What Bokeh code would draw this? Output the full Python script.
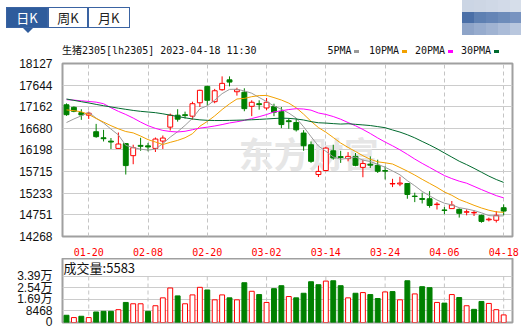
from bokeh.plotting import figure
from bokeh.layouts import column
from bokeh.models import ColumnDataSource, FixedTicker, Range1d, Div
from bokeh.core.properties import value
from bokeh.embed import file_html
from bokeh.resources import INLINE

# ---------------- data ----------------
dates = ["01-17", "01-18", "01-19", "01-20", "01-30", "01-31", "02-01", "02-02", "02-03", "02-06",
         "02-07", "02-08", "02-09", "02-10", "02-13", "02-14", "02-15", "02-16", "02-17", "02-20",
         "02-21", "02-22", "02-23", "02-24", "02-27", "02-28", "03-01", "03-02", "03-03", "03-06",
         "03-07", "03-08", "03-09", "03-10", "03-13", "03-14", "03-15", "03-16", "03-17", "03-20",
         "03-21", "03-22", "03-23", "03-24", "03-27", "03-28", "03-29", "03-30", "03-31", "04-03",
         "04-04", "04-06", "04-07", "04-10", "04-11", "04-12", "04-13", "04-14", "04-17", "04-18"]
tick_labels = ["01-20", "02-08", "02-20", "03-02", "03-14", "03-24", "04-06", "04-18"]

opens = [17206, 17150, 17030, 16974, 16605, 16470, 16395, 16233, 16340, 16071,
         16300, 16290, 16233, 16397, 16708, 16974, 16985, 16952, 17251, 17616,
         17275, 17542, 17763, 17497, 17486, 17172, 17230, 17135, 17165, 17053,
         16850, 16810, 16575, 16315, 15650, 15740, 16180, 16050, 16005, 16055,
         15810, 15880, 15855, 15740, 15440, 15440, 15450, 15170, 15115, 15110,
         14980, 14860, 14890, 14874, 14810, 14795, 14740, 14640, 14630, 14910]
highs = [17237, 17170, 17107, 17053, 16780, 16648, 16465, 16588, 16350, 16315,
         16470, 16356, 16477, 16521, 17010, 17107, 17053, 17275, 17542, 17630,
         17560, 17840, 17840, 17586, 17574, 17306, 17306, 17358, 17230, 17157,
         16908, 16908, 16640, 16388, 15850, 16270, 16315, 16180, 16150, 16130,
         15982, 16055, 15982, 15834, 15555, 15600, 15460, 15245, 15245, 15280,
         15035, 14925, 15060, 14895, 14874, 14850, 14755, 14690, 14835, 14985]
lows = [16960, 17040, 16870, 16890, 16470, 16388, 16220, 16233, 15650, 15880,
        16180, 16168, 16153, 16220, 16632, 16830, 16900, 16876, 17157, 17190,
        17240, 17520, 17617, 17410, 17062, 16952, 17097, 17085, 16952, 16685,
        16670, 16610, 16180, 15910, 15595, 15720, 15982, 15910, 15945, 15835,
        15590, 15798, 15685, 15540, 15370, 15390, 15110, 15035, 15005, 14910,
        14870, 14765, 14890, 14690, 14740, 14725, 14575, 14605, 14580, 14740]
closes = [16985, 17061, 16980, 17018, 16495, 16450, 16375, 16331, 15850, 16249,
          16280, 16265, 16442, 16464, 16974, 16885, 16965, 17230, 17529, 17306,
          17519, 17684, 17712, 17542, 17120, 17262, 17210, 17262, 17040, 16765,
          16830, 16648, 16293, 15945, 15720, 16240, 16020, 16030, 16055, 15855,
          15895, 15860, 15723, 15725, 15450, 15460, 15206, 15160, 15095, 14960,
          14990, 14850, 14970, 14785, 14820, 14805, 14605, 14655, 14740, 14835]

ma5 = [16810, 16890, 16960, 17040, 16908, 16801, 16664, 16534, 16300, 16251,
       16217, 16195, 16217, 16340, 16485, 16606, 16746, 16904, 17117, 17183,
       17310, 17454, 17550, 17553, 17515, 17464, 17369, 17279, 17179, 17108,
       17021, 16909, 16715, 16496, 16287, 16169, 16044, 15991, 16013, 16040,
       15971, 15939, 15878, 15812, 15731, 15644, 15513, 15400, 15274, 15176,
       15082, 15011, 14973, 14911, 14883, 14846, 14797, 14734, 14725, 14728]
ma10 = [17092, 17075, 17050, 16990, 16900, 16820, 16740, 16670, 16610, 16579,
        16509, 16429, 16376, 16320, 16368, 16412, 16471, 16560, 16728, 16834,
        16958, 17100, 17227, 17335, 17349, 17387, 17411, 17415, 17366, 17312,
        17243, 17139, 16997, 16838, 16698, 16595, 16476, 16353, 16255, 16164,
        16070, 15991, 15934, 15912, 15885, 15807, 15726, 15639, 15543, 15453,
        15363, 15262, 15187, 15093, 15030, 14964, 14904, 14854, 14818, 14806]
ma20 = [17320, 17310, 17295, 17280, 17265, 17230, 17140, 17060, 16990, 16910,
        16820, 16740, 16680, 16635, 16610, 16600, 16615, 16650, 16685, 16707,
        16733, 16765, 16801, 16827, 16859, 16899, 16941, 16988, 17047, 17073,
        17100, 17119, 17112, 17086, 17023, 16991, 16944, 16884, 16810, 16738,
        16656, 16565, 16466, 16375, 16291, 16201, 16101, 15996, 15899, 15809,
        15717, 15627, 15560, 15502, 15457, 15386, 15315, 15246, 15180, 15129]
ma30 = [17335, 17305, 17275, 17247, 17215, 17185, 17158, 17130, 17105, 17080,
        17060, 17045, 17030, 17005, 16975, 16945, 16915, 16890, 16870, 16860,
        16855, 16855, 16858, 16862, 16866, 16872, 16880, 16890, 16900, 16908,
        16903, 16889, 16867, 16831, 16805, 16798, 16786, 16776, 16783, 16770,
        16757, 16743, 16719, 16695, 16644, 16597, 16538, 16469, 16388, 16310,
        16225, 16131, 16039, 15947, 15871, 15789, 15702, 15615, 15539, 15474]

volumes = [5324, 3630, 4600, 3630, 7744, 8228, 8228, 9438, 14762, 13794,
           13794, 8228, 12342, 18150, 25410, 19602, 13794, 20328, 25894, 23958,
           16698, 20328, 18150, 16698, 29282, 22990, 20570, 14762, 24926, 27104,
           19118, 18150, 21538, 30008, 27830, 30492, 30734, 27104, 18150, 21538,
           22022, 20570, 17666, 22506, 22748, 16698, 30734, 21054, 26378, 25652,
           14762, 14278, 20570, 18392, 12342, 9680, 15488, 14036, 9438, 5583]
vol_up = [0, 1, 0, 1, 0, 0, 0, 1, 0, 1,
          1, 0, 1, 1, 1, 0, 1, 1, 1, 0,
          1, 1, 0, 1, 0, 1, 0, 1, 0, 0,
          1, 0, 0, 0, 0, 1, 0, 0, 1, 0,
          1, 0, 0, 1, 0, 1, 0, 1, 0, 0,
          1, 0, 1, 0, 1, 0, 0, 1, 1, 1]

price_ticks = [14268, 14751, 15233, 15715, 16198, 16680, 17162, 17644, 18127]
vol_ticks = [0, 8468, 16936, 25404, 33872]
vol_tick_labels = ["0", "8468", "1.69万", "2.54万", "3.39万"]

ma_names = ["5PMA", "10PMA", "20PMA", "30PMA"]
tabs = ["日K", "周K", "月K"]
title = "生猪2305[lh2305] 2023-04-18 11:30"

# ---------------- styles ----------------
RED = "#ff0000"
GREEN = "#008000"
MA_COLORS = ["#9a9a9a", "#f2a100", "#ff00ff", "#006a2e"]
GRID = "#cccccc"
BORDER = "#a0a0a0"
TAB_BLUE = "#2f5c9c"
CJK = value("Noto Sans CJK SC")
MONO_CSS = "'DejaVu Sans Mono','Noto Sans CJK SC',monospace"

idx = list(range(len(dates)))
tick_idx = [dates.index(t) for t in tick_labels]
x_rng = Range1d(-0.54, 60.19)

# ---------------- header (HTML) ----------------
parts = []
tab_left = [6, 48, 88]
tab_w = [42, 40, 41.5]
for i, (t, l, w) in enumerate(zip(tabs, tab_left, tab_w)):
    sel = i == 0
    parts.append(
        '<div style="position:absolute;left:%spx;top:7px;width:%spx;height:21px;box-sizing:border-box;'
        'border:1px solid #3a63a2;background:%s;color:%s;font:13px \'Noto Sans CJK SC\';'
        'line-height:19px;text-align:center;">%s</div>'
        % (l, w, TAB_BLUE if sel else "white", "white" if sel else "#222", t))
parts.append('<div style="position:absolute;left:23px;top:28px;width:0;height:0;'
             'border-left:5px solid transparent;border-right:5px solid transparent;'
             'border-top:5px solid %s;"></div>' % TAB_BLUE)
logo_colors = [["#cbd5e4", "#cdd6e4", "#cfd8e6", "#d2dae8", "#d6deea"],
               ["#4a6fa7", "#5e80b2", "#6585b6", "#6d8cba", "#7893c0"],
               ["#8ea4c8", "#97acce", "#a0b3d2", "#abbcd8", "#b9c7de"]]
for r, row in enumerate(logo_colors):
    for c, col in enumerate(row):
        parts.append('<div style="position:absolute;left:%spx;top:%spx;width:12px;height:12px;'
                     'background:%s;"></div>' % (461.5 + 12 * c, r * 11.5, col))
parts.append('<div style="position:absolute;left:%spx;top:%spx;font:10px %s;color:#111;'
             'line-height:12px;white-space:nowrap;">%s</div>' % (62, 45, MONO_CSS, title))
leg_x = [327.5, 369, 415, 461]
for x, n, col in zip(leg_x, ma_names, MA_COLORS):
    parts.append('<div style="position:absolute;left:%spx;top:45px;font:10px %s;color:#111;'
                 'line-height:12px;white-space:nowrap;">%s<span style="display:inline-block;'
                 'width:5px;height:3px;background:%s;margin-left:2.5px;vertical-align:middle;">'
                 '</span></div>' % (x, MONO_CSS, n, col))
hdr = Div(text='<div style="position:relative;width:521px;height:56px;overflow:hidden;">%s</div>'
          % "".join(parts), width=521, height=56, margin=0)

# ---------------- main price chart ----------------
p = figure(width=521, height=202, x_range=x_rng, y_range=Range1d(price_ticks[0], price_ticks[-1]),
           output_backend="svg", toolbar_location=None,
           min_border_left=62, min_border_right=9, min_border_top=7, min_border_bottom=21,
           outline_line_color=BORDER, outline_line_width=2)
p.yaxis.ticker = FixedTicker(ticks=price_ticks)
p.yaxis.major_label_text_font = "Liberation Sans"
p.yaxis.major_label_text_font_size = "12px"
p.yaxis.major_label_text_color = "#111111"
p.xaxis.ticker = FixedTicker(ticks=tick_idx)
p.xaxis.major_label_overrides = {i: t for i, t in zip(tick_idx, tick_labels)}
p.xaxis.major_label_text_font = "DejaVu Sans Mono"
p.xaxis.major_label_text_font_size = "10px"
p.xaxis.major_label_text_color = RED
for ax in (p.xaxis, p.yaxis):
    ax.axis_line_color = None
    ax.major_tick_line_color = None
    ax.minor_tick_line_color = None
p.yaxis.major_label_standoff = 4
p.xaxis.major_label_standoff = 5
p.ygrid.ticker = FixedTicker(ticks=price_ticks)
p.ygrid.grid_line_color = GRID
p.xgrid.ticker = FixedTicker(ticks=tick_idx)
p.xgrid.grid_line_color = "#c4c4c4"
p.xgrid.grid_line_dash = "4 3"

# faint watermark
p.text(x=[32.7], y=[16150], text=["东方财富"], text_color="#e6e6e6", text_align="center",
       text_baseline="middle", text_font=CJK, text_font_size="35px", text_font_style="bold")

up = [c >= o for o, c in zip(opens, closes)]
src = ColumnDataSource(dict(
    x=idx, high=highs, low=lows,
    top=[max(o, c) for o, c in zip(opens, closes)],
    bottom=[min(o, c) for o, c in zip(opens, closes)],
    line=[RED if u else GREEN for u in up],
    fill=["white" if u else GREEN for u in up],
))
p.segment(x0="x", y0="low", x1="x", y1="high", line_color="line", line_width=1, source=src)
p.vbar(x="x", width=0.66, top="top", bottom="bottom", fill_color="fill",
       line_color="line", line_width=1, source=src)

for ma, col in zip([ma5, ma10, ma20, ma30], MA_COLORS):
    p.line(idx, ma, line_color=col, line_width=1)

# ---------------- volume chart ----------------
v = figure(width=521, height=70, x_range=x_rng, y_range=Range1d(0, 47126),
           output_backend="svg", toolbar_location=None, x_axis_location=None,
           min_border_left=62, min_border_right=9, min_border_top=0, min_border_bottom=6,
           outline_line_color=BORDER, outline_line_width=2)
v.yaxis.ticker = FixedTicker(ticks=vol_ticks)
v.yaxis.major_label_overrides = {t: l for t, l in zip(vol_ticks, vol_tick_labels)}
v.yaxis.major_label_text_font = "Liberation Sans, Noto Sans CJK SC"
v.yaxis.major_label_text_font_size = "12px"
v.yaxis.major_label_text_color = "#111111"
v.yaxis.axis_line_color = None
v.yaxis.major_tick_line_color = None
v.yaxis.minor_tick_line_color = None
v.yaxis.major_label_standoff = 4
v.ygrid.ticker = FixedTicker(ticks=vol_ticks)
v.ygrid.grid_line_color = GRID
v.xgrid.visible = False
v.segment(x0=tick_idx, y0=[0] * len(tick_idx), x1=tick_idx, y1=[vol_ticks[-1]] * len(tick_idx),
          line_color="#c4c4c4", line_dash="4 3", line_width=1)
vsrc = ColumnDataSource(dict(
    x=idx, vol=volumes,
    line=[RED if u else GREEN for u in vol_up],
    fill=["white" if u else GREEN for u in vol_up],
))
v.vbar(x="x", width=0.66, top="vol", bottom=0, fill_color="fill", line_color="line",
       line_width=1, source=vsrc)
v.text(x=[x_rng.start + 0.15], y=[(vol_ticks[-1] + 47126) / 2], text=["成交量:%d" % volumes[-1]],
       text_color="#111111", text_baseline="middle", text_font=CJK, text_font_size="13px")

layout = column(hdr, p, v, spacing=0)
open("out.html", "w").write(file_html(layout, INLINE))
